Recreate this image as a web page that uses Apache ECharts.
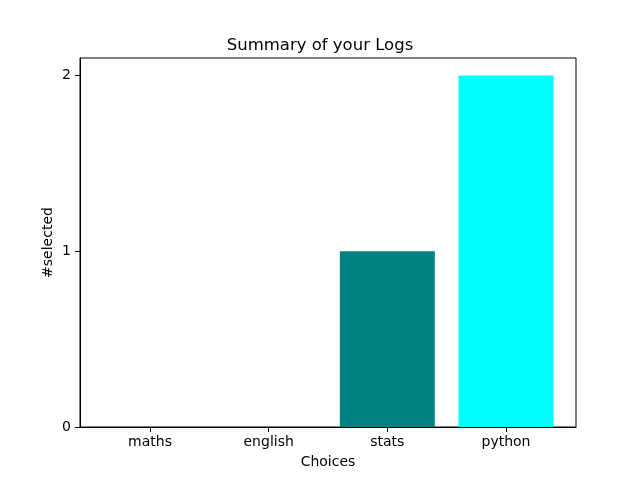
<!DOCTYPE html>
<html>
<head>
<meta charset="utf-8">
<script src="https://cdn.jsdelivr.net/npm/echarts@6/dist/echarts.min.js"></script>
<style>html,body{margin:0;padding:0;background:#fff}#c{width:640px;height:480px}</style>
</head>
<body>
<div id="c"></div>
<script>
var categories = ['maths', 'english', 'stats', 'python'];
var values = [0, 0, 1, 2];
var barColors = ['#1f77b4', '#ff7f0e', '#008080', '#00ffff'];
var yTicks = [0, 1, 2];

var font = 'DejaVu Sans';
var chart = echarts.init(document.getElementById('c'), null, {renderer: 'canvas'});
var data = values.map(function (v, i) {
  return {value: [i, v], itemStyle: {color: barColors[i]}};
});
chart.setOption({
  animation: false,
  backgroundColor: '#ffffff',
  title: {
    text: 'Summary of your Logs',
    left: 'center',
    top: 32,
    textStyle: {fontFamily: font, fontSize: 16.5, fontWeight: 'normal', color: '#000'}
  },
  grid: {
    left: 80, right: 64, top: 58, bottom: 53,
    show: true, borderColor: '#000', borderWidth: 1, backgroundColor: 'transparent'
  },
  xAxis: {
    type: 'value',
    min: -0.59, max: 3.59,
    name: 'Choices',
    nameLocation: 'middle',
    nameGap: 28,
    nameMoveOverlap: false,
    nameTextStyle: {fontFamily: font, fontSize: 14, color: '#000'},
    splitLine: {show: false},
    axisLine: {show: true, onZero: false, lineStyle: {color: '#000', width: 1}},
    axisTick: {show: true, inside: false, length: 5, lineStyle: {color: '#000', width: 1}, customValues: [0, 1, 2, 3]},
    axisLabel: {
      customValues: [0, 1, 2, 3],
      margin: 8,
      fontFamily: font, fontSize: 14, color: '#000',
      formatter: function (v) { return categories[Math.round(v)]; }
    }
  },
  yAxis: {
    type: 'value',
    min: 0, max: 2.1,
    name: '#selected',
    nameLocation: 'middle',
    nameRotate: 90,
    nameGap: 25,
    nameMoveOverlap: false,
    nameTextStyle: {fontFamily: font, fontSize: 14, color: '#000'},
    splitLine: {show: false},
    axisLine: {show: true, onZero: false, lineStyle: {color: '#000', width: 1}},
    axisTick: {show: true, inside: false, length: 5, lineStyle: {color: '#000', width: 1}, customValues: yTicks},
    axisLabel: {customValues: yTicks, margin: 9, fontFamily: font, fontSize: 14, color: '#000'}
  },
  series: [{
    type: 'bar',
    data: data,
    barWidth: 95
  }]
});
</script>
</body>
</html>
